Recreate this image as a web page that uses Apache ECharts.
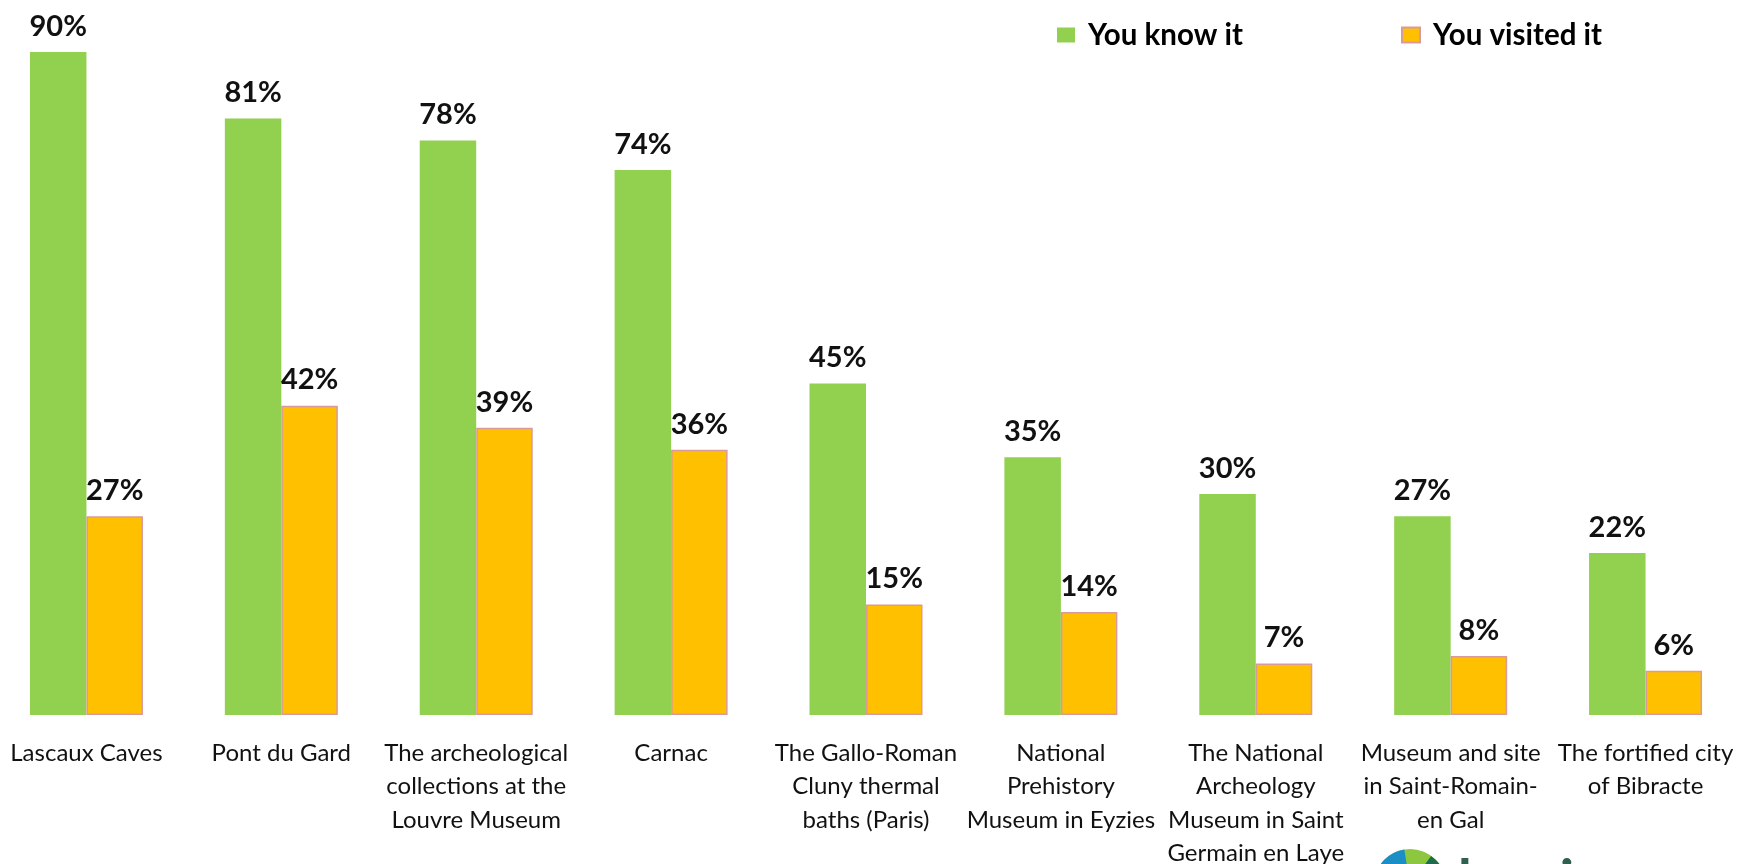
<!DOCTYPE html>
<html><head><meta charset="utf-8">
<script src="https://cdn.jsdelivr.net/npm/echarts@6/dist/echarts.min.js"></script>
<style>html,body{margin:0;padding:0;background:#fff}#c{width:1756px;height:864px}</style>
</head><body><div id="c"></div>
<script>
const categories = [
  'Lascaux Caves',
  'Pont du Gard',
  'The archeological\ncollections at the\nLouvre Museum',
  'Carnac',
  'The Gallo-Roman\nCluny thermal\nbaths (Paris)',
  'National\nPrehistory\nMuseum in Eyzies',
  'The National\nArcheology\nMuseum in Saint\nGermain en Laye',
  'Museum and site\nin Saint-Romain-\nen Gal',
  'The fortified city\nof Bibracte'
];
const seriesNames = ['You know it', 'You visited it'];
const knowValues = [90, 81, 78, 74, 45, 35, 30, 27, 22];
const visitedValues = [27, 42, 39, 36, 15, 14, 7, 8, 6];
const logoText = 'harris';

const FONT = 'Lato, "Open Sans", sans-serif';
const GREEN = '#92D050', ORANGE = '#FFC000', PINK = '#D99A9A';

const chart = echarts.init(document.getElementById('c'), null, {renderer: 'canvas'});
const labelStyle = {
  show: true, position: 'top', distance: 11,
  formatter: '{c}%', color: '#111', fontFamily: FONT, fontWeight: 'bold', fontSize: 29
};
const legendText = {color: '#000', fontFamily: FONT, fontWeight: 'bold', fontSize: 29.5, padding: [0, 0, 0, 8]};
chart.setOption({
  animation: false,
  backgroundColor: '#fff',
  legend: [
    {data: [seriesNames[0]], left: 1057, top: 20, itemWidth: 18, itemHeight: 15, itemGap: 0,
     textStyle: legendText, icon: 'rect', padding: 0},
    {data: [seriesNames[1]], left: 1401, top: 20, itemWidth: 18, itemHeight: 15, itemGap: 0,
     textStyle: legendText, icon: 'rect', padding: 0}
  ],
  grid: {left: -11, right: 13, top: 2, bottom: 149, containLabel: false, outerBoundsMode: 'none'},
  xAxis: {
    type: 'category', data: categories,
    axisLine: {show: false}, axisTick: {show: false}, splitLine: {show: false},
    axisLabel: {interval: 0, margin: 21, color: '#111', fontFamily: FONT, fontSize: 24,
                lineHeight: 33.6, align: 'center', verticalAlign: 'top'}
  },
  yAxis: {type: 'value', min: 0, max: 96.8, show: false, splitLine: {show: false}},
  series: [
    {name: seriesNames[0], type: 'bar', data: knowValues, barWidth: 56.5, barGap: '0%',
     itemStyle: {color: GREEN}, label: labelStyle},
    {name: seriesNames[1], type: 'bar', data: visitedValues, barWidth: 56.5,
     itemStyle: {color: ORANGE, borderColor: PINK, borderWidth: 1.5}, label: labelStyle}
  ],
  graphic: [
    {type: 'sector', shape: {cx: 1410, cy: 885, r: 36, r0: 0, startAngle: 0, endAngle: Math.PI * 2},
     style: {fill: '#8DC63F'}},
    {type: 'sector', shape: {cx: 1410, cy: 885, r: 36, r0: 20, startAngle: Math.PI * 1.05, endAngle: Math.PI * 1.45},
     style: {fill: '#1B8FC5'}},
    {type: 'sector', shape: {cx: 1410, cy: 885, r: 36, r0: 20, startAngle: Math.PI * 1.7, endAngle: Math.PI * 2},
     style: {fill: '#1E6B4E'}},
    {type: 'sector', shape: {cx: 1410, cy: 885, r: 20, r0: 0, startAngle: 0, endAngle: Math.PI * 2},
     style: {fill: '#C8DC2E'}},
    {type: 'text', left: 1458, top: 853,
     style: {text: logoText, fill: '#2F5F4F', font: 'bold 56px ' + FONT}}
  ]
});
</script>
</body></html>
